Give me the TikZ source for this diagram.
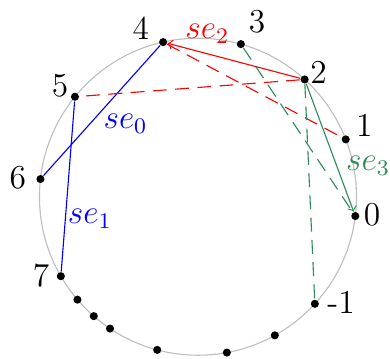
\documentclass[tikz,border=0pt]{standalone}
\usepackage{tikz}
\usetikzlibrary{arrows.meta,positioning,calc}
\definecolor{ringGray}{RGB}{190,190,190}
\definecolor{seGreen}{RGB}{46,139,87}
\tikzset{
    ringDot/.style={circle, fill=black, inner sep=0pt, minimum size=2.9pt},
    numLbl/.style={inner sep=0pt, anchor=center, font=\large},
    seLbl/.style={font=\large, inner sep=0pt, anchor=center},
    % Edges
    seArrow/.style={->, >=to},
    seDash/.style={dash pattern=on 5pt off 3pt}
}
\begin{document}
\begin{tikzpicture}
\useasboundingbox (-2.498,-2.036) rectangle (2.423,2.482);
\draw[ringGray] (0,0) circle (2cm);

% labelled points on the ring
\node[ringDot, label={[numLbl, label distance=7.7pt]149:4}] (p4) at (102.7:2) {};
\node[ringDot, label={[numLbl, label distance=8.2pt]54:3}] (p3) at (74.3:2) {};
\node[ringDot, label={[numLbl, label distance=4pt]28:2}] (p2) at (47.7:2) {};
\node[ringDot, label={[numLbl, label distance=6.8pt]38:1}] (p1) at (21.2:2) {};
\node[ringDot, label={[numLbl, label distance=4.4pt]4:0}] (p0) at (-7:2) {};
\node[ringDot, label={[numLbl, label distance=7.8pt]3:-1}] (pm1) at (-42.5:2) {};
\node[ringDot, label={[numLbl, label distance=5.1pt]143:5}] (p5) at (140.9:2) {};
\node[ringDot, label={[numLbl, label distance=6.5pt]177:6}] (p6) at (173.6:2) {};
\node[ringDot, label={[numLbl, label distance=5.5pt]177:7}] (p7) at (210.1:2) {};

% other points
\foreach \a in {220.5,228.9,236.3,255.1,280.5,299}
    \node[ringDot] at (\a:2) {};

% solid edges
\draw[blue] (p4) -- (p6) node[seLbl, pos=0.6, xshift=12.7pt] {$se_0$};
\draw[blue] (p5) -- (p7) node[seLbl, pos=0.69, xshift=8.8pt] {$se_1$};
\draw[red, seArrow] (p2) -- (p4) node[seLbl, pos=0.7, yshift=7.2pt] {$se_2$};
\draw[seGreen, seArrow] (p2) -- (p0) node[seLbl, pos=0.64, xshift=11.3pt] {$se_3$};

% dashed edges
\draw[red, seDash] (p2) -- (p5);
\draw[red, seDash] (p4) -- (p1);
\draw[seGreen, seDash] (p3) -- (p0);
\draw[seGreen, seDash] (p2) -- (pm1);
\end{tikzpicture}
\end{document}
